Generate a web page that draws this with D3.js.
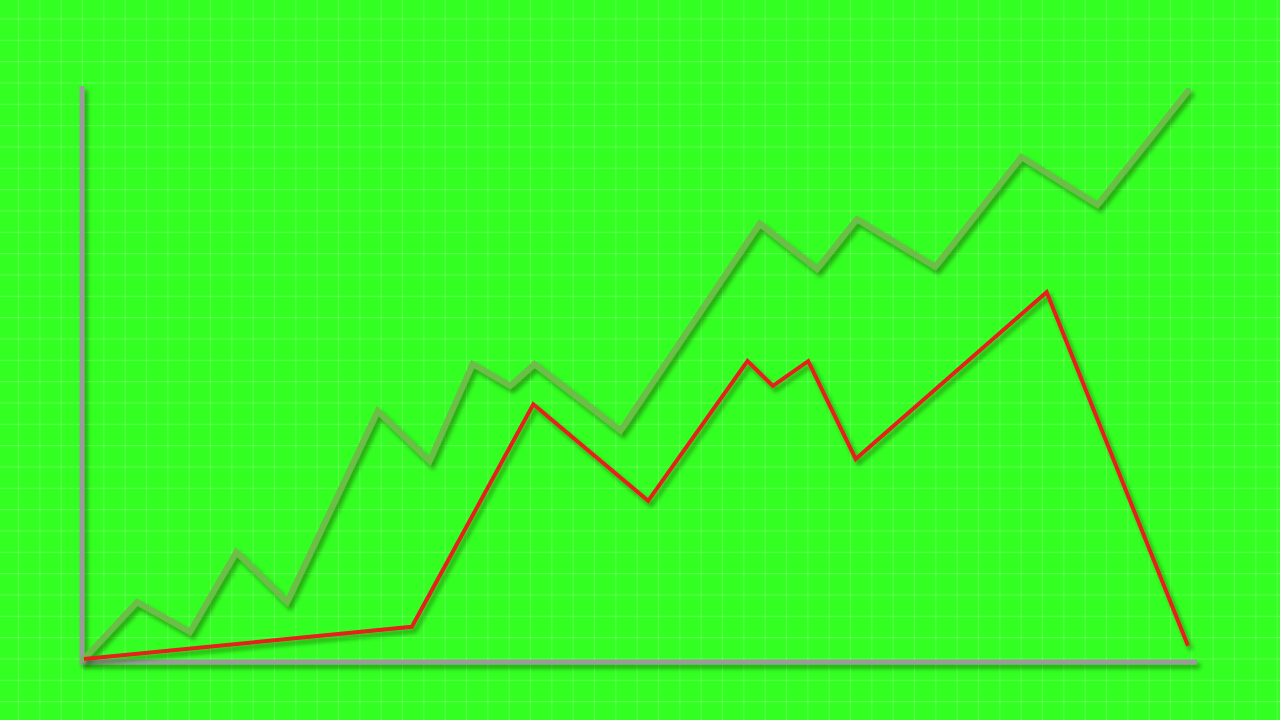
<!DOCTYPE html>
<html>
<head>
<meta charset="utf-8">
<script src="https://cdn.jsdelivr.net/npm/d3@7"></script>
<style>
html,body{margin:0;padding:0;background:#34ff22;overflow:hidden;}
svg{display:block;}
</style>
</head>
<body>
<svg id="chart" width="1280" height="720"></svg>
<script>
// Data (x: 0-100 time units, y: 0-100 value units)
const greenX = [0, 4.8, 9.6, 13.8, 18.4, 26.6, 31.3, 35.2, 38.6, 40.8, 48.6, 61.2, 66.4, 70.0, 77.1, 84.9, 91.8, 100];
const greenY = [0, 9.9, 4.7, 18.6, 9.9, 43.1, 34.4, 51.3, 47.5, 51.3, 39.7, 75.7, 67.8, 76.5, 68.2, 87.3, 79.0, 98.8];
const redX = [0, 29.7, 40.7, 51.1, 60.1, 62.4, 65.6, 69.9, 87.2, 100];
const redY = [0, 5.6, 44.3, 27.5, 51.8, 47.5, 51.8, 34.8, 63.8, 2.3];

const W = 1280, H = 720;
const svg = d3.select("#chart");

// background
svg.append("rect").attr("width", W).attr("height", H).attr("fill", "#34ff22");

// grid
const step = 1280 / 60;
const grid = svg.append("g").attr("stroke", "rgba(255,255,255,0.22)").attr("stroke-width", 1);
d3.range(18.5 - step, W, step).forEach(x => grid.append("line").attr("x1", x).attr("x2", x).attr("y1", 0).attr("y2", H));
d3.range(19 - step, H, step).forEach(y => grid.append("line").attr("y1", y).attr("y2", y).attr("x1", 0).attr("x2", W));

const x = d3.scaleLinear().domain([0, 100]).range([84, 1188]);
const y = d3.scaleLinear().domain([0, 100]).range([659, 84]);

// shadow filter
const defs = svg.append("defs");
const f = defs.append("filter").attr("id", "shadow").attr("x", "-10%").attr("y", "-10%").attr("width", "120%").attr("height", "120%");
f.append("feDropShadow").attr("dx", 3).attr("dy", 4).attr("stdDeviation", 2)
  .attr("flood-color", "#0a5a00").attr("flood-opacity", 0.55);

// axes
const axes = svg.append("g").attr("filter", "url(#shadow)");
axes.append("path")
  .attr("d", d3.line()([[82, 86], [82, 662], [1197, 662]]))
  .attr("fill", "none").attr("stroke", "#9b9b9b").attr("stroke-width", 5)
  .attr("stroke-linejoin", "miter").attr("stroke-linecap", "butt");

const line = d3.line().x(d => x(d[0])).y(d => y(d[1]));

svg.append("path")
  .datum(greenX.map((v, i) => [v, greenY[i]]))
  .attr("d", line)
  .attr("fill", "none").attr("stroke", "#6dbd48").attr("stroke-width", 6)
  .attr("stroke-linejoin", "miter").attr("stroke-linecap", "round")
  .attr("filter", "url(#shadow)");

svg.append("path")
  .datum(redX.map((v, i) => [v, redY[i]]))
  .attr("d", line)
  .attr("fill", "none").attr("stroke", "#e3201f").attr("stroke-width", 4)
  .attr("stroke-linejoin", "miter").attr("stroke-linecap", "butt")
  .attr("filter", "url(#shadow)");
</script>
</body>
</html>
